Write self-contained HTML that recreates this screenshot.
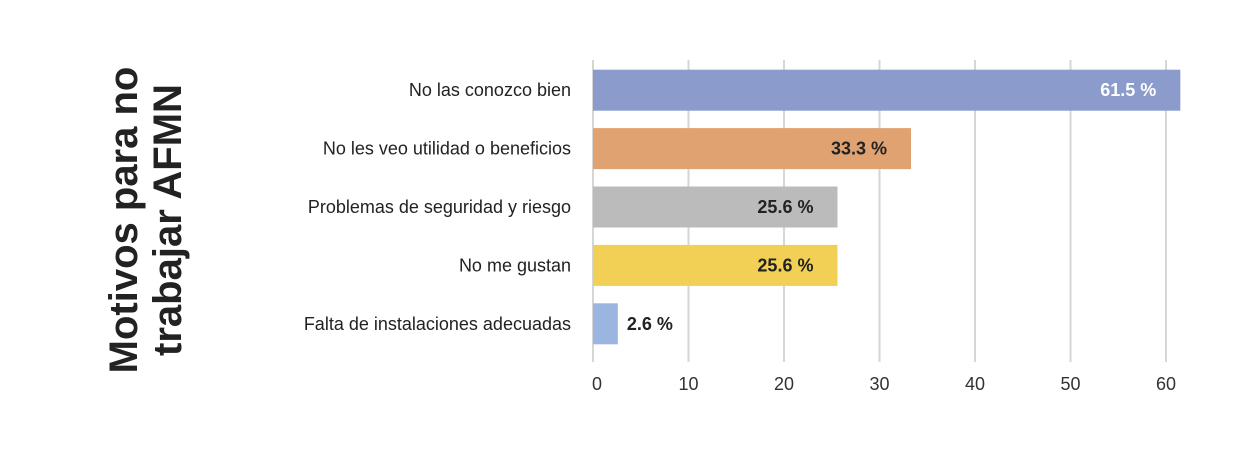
<!DOCTYPE html>
<html><head><meta charset="utf-8"><style>
body{margin:0;background:#fff;}
svg text{font-family:"Liberation Sans",Arial,sans-serif;}
</style></head><body>
<svg id="chart" width="1260" height="450" xmlns="http://www.w3.org/2000/svg">
<text transform="translate(145,220) rotate(-90)" text-anchor="middle" font-size="40" font-weight="bold" fill="#222"><tspan x="0" dy="-8">Motivos para no</tspan><tspan x="0" dy="44">trabajar AFMN</tspan></text>
<g id="grid"></g><g id="bars"></g><g id="labels"></g>
</svg>
<script>
const categories=["No las conozco bien","No les veo utilidad o beneficios","Problemas de seguridad y riesgo","No me gustan","Falta de instalaciones adecuadas"];
const values=[61.5,33.3,25.6,25.6,2.6];
const valueLabels=["61.5 %","33.3 %","25.6 %","25.6 %","2.6 %"];
const ticks=[0,10,20,30,40,50,60];
const colors=["#8a9bcc","#e0a270","#bcbbbb","#f2d055","#9ab5e0"];
const NS="http://www.w3.org/2000/svg";
const x0=593,pxPer=9.55,topY=61,band=58.4,bh=41;
const xs=v=>x0+v*pxPer;
const grid=document.getElementById('grid'),bars=document.getElementById('bars'),labels=document.getElementById('labels');
function mk(tag,attrs,parent,txt){const e=document.createElementNS(NS,tag);for(const k in attrs)e.setAttribute(k,attrs[k]);if(txt!==undefined)e.textContent=txt;parent.appendChild(e);return e;}
ticks.forEach(t=>{
 const l=mk('line',{x1:xs(t),x2:xs(t),y1:60,y2:362,stroke:'#d6d6d6','stroke-width':2},grid);
 
 
 const tx=mk('text',{x:xs(t)+(t===0?4:0),y:390,'text-anchor':'middle','font-size':18,fill:'#333'},grid,String(t));
 
 
});
categories.forEach((c,i)=>{
 const y=topY+i*band+(band-bh)/2;
 const r=mk('rect',{x:x0,y:y,width:xs(values[i])-x0,height:bh,fill:colors[i]},bars);
 
 
 const cl=mk('text',{x:571,y:y+bh/2+6,'text-anchor':'end','font-size':18,fill:'#222'},labels,c);
 
 
 const inside=values[i]>10;
 const vl=mk('text',{x:inside?xs(values[i])-24:xs(values[i])+9,y:y+bh/2+6,'text-anchor':inside?'end':'start','font-size':18,'font-weight':'bold',fill:i===0?'#fff':'#222'},labels,valueLabels[i]);
 
 
});
</script>
</body></html>
